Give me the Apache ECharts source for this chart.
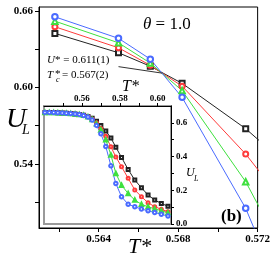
<!DOCTYPE html>
<html><head><meta charset="utf-8">
<script src="https://cdn.jsdelivr.net/npm/echarts@6/dist/echarts.min.js"></script>
<style>html,body{margin:0;padding:0;background:#fff}#c{width:273px;height:262px}</style>
</head><body><div id="c"></div>
<script>
// ---- main plot data ----
const mainT = [0.5618, 0.5650, 0.5666, 0.5682, 0.5714, 0.5740];
const mainBlack = [0.6423, 0.6271, 0.6165, 0.6031, 0.5675, 0.5320];
const mainRed   = [0.6475, 0.6310, 0.6172, 0.6009, 0.5476, 0.4960];
const mainGreen = [0.6519, 0.6349, 0.6190, 0.5974, 0.5259, 0.4500];
const mainBlue  = [0.6553, 0.6384, 0.6221, 0.5921, 0.5050, 0.4080];
// ---- inset data ----
const insetT = [0.5405,0.5428,0.5451,0.5473,0.5496,0.5518,0.5541,0.5564,0.5586,0.5609,0.5632,0.5654,0.5677,0.5700,0.5726,0.5753,0.5779,0.5809,0.5844,0.5879,0.5914,0.5949,0.5984,0.6019,0.6054];
const insetBlack = [0.662,0.662,0.661,0.660,0.659,0.657,0.655,0.653,0.650,0.645,0.638,0.627,0.609,0.585,0.552,0.510,0.456,0.395,0.323,0.261,0.215,0.172,0.142,0.122,0.105];
const insetRed   = [0.662,0.662,0.661,0.660,0.659,0.657,0.655,0.653,0.650,0.645,0.637,0.623,0.600,0.567,0.520,0.458,0.398,0.340,0.271,0.202,0.162,0.126,0.103,0.087,0.073];
const insetGreen = [0.662,0.662,0.661,0.660,0.659,0.657,0.655,0.653,0.650,0.645,0.636,0.620,0.594,0.558,0.500,0.410,0.300,0.230,0.181,0.142,0.117,0.102,0.090,0.079,0.066];
const insetBlue  = [0.662,0.662,0.661,0.660,0.659,0.657,0.655,0.653,0.650,0.644,0.635,0.617,0.585,0.535,0.460,0.345,0.240,0.162,0.117,0.102,0.089,0.078,0.068,0.058,0.047];
// ---- ticks / labels ----
const mainXTicks = [0.562,0.564,0.566,0.568,0.570,0.572];
const mainXLabels = [0.564,0.568,0.572];
const mainYTicks = [0.51,0.54,0.57,0.60,0.63,0.66];
const mainYLabels = [0.54,0.60,0.66];
const insetXTicks = [0.55,0.56,0.57,0.58,0.59,0.60];
const insetXLabels = [0.56,0.58,0.60];
const insetYTicks = [0,0.1,0.2,0.3,0.4,0.5,0.6];
const insetYLabels = [0,0.2,0.4,0.6];
// ---- annotation ----
const crossing = [0.5672, 0.6111];
const arrowTip = [0.5650, 0.6162];

const SERIF = '"Liberation Serif","DejaVu Serif",serif';
const colors = {black:'#222222', red:'#ff3b3b', green:'#3ee03e', blue:'#4a6bff'};

function mk(T, U, color, symbol, size, idx, extra) {
  return Object.assign({
    type:'line', xAxisIndex:idx, yAxisIndex:idx,
    data: T.map((t,i)=>[t,U[i]]),
    symbol, symbolSize:size, showSymbol:true,
    lineStyle:{color, width:1}, itemStyle:{color, borderColor:color, borderWidth:0.9},
    emphasis:{disabled:true}, silent:true, animation:false, clip:true
  }, extra||{});
}

function axisCommon(ticks, labels, dec, fs, margin, len) {
  return {
    axisLine:{show:true, onZero:false, lineStyle:{color:'#000', width:1}},
    axisTick:{show:true, inside:false, length:len, customValues:ticks, lineStyle:{color:'#000'}},
    axisLabel:{show:true, customValues:labels, formatter:v=>Number(v).toFixed(dec),
      fontFamily:SERIF, fontSize:fs, fontWeight:'bold', color:'#000', margin:margin},
    splitLine:{show:false}
  };
}

const chart = echarts.init(document.getElementById('c'), null, {renderer:'canvas'});
const option = {
  animation:false,
  backgroundColor:'#fff',
  grid:[
    {left:39, top:7, width:220, height:221, show:true, borderColor:'#000', borderWidth:1, backgroundColor:'transparent'},
    {left:44, top:106, width:127, height:118, show:true, borderColor:'#9a9a9a', borderWidth:2, backgroundColor:'#fff'}
  ],
  xAxis:[
    Object.assign({type:'value', gridIndex:0, min:0.561, max:0.572, position:'bottom'}, axisCommon(mainXTicks, mainXLabels, 3, 11, 6, 4)),
    Object.assign({type:'value', gridIndex:1, min:0.54, max:0.607, position:'top'}, axisCommon(insetXTicks, insetXLabels, 2, 9, 3, 3))
  ],
  yAxis:[
    Object.assign({type:'value', gridIndex:0, min:0.4896, max:0.663, position:'left'}, axisCommon(mainYTicks, mainYLabels, 2, 11, 6, 4)),
    Object.assign({type:'value', gridIndex:1, min:0, max:0.7, position:'right'}, axisCommon(insetYTicks, insetYLabels, 1, 9, 5, 3))
  ],
  series:[
    mk(mainT, mainBlack, colors.black, 'emptyRect', 5, 0, {
      markLine:{silent:true, symbol:['none','arrow'], symbolSize:[0,7], animation:false,
        label:{show:false}, lineStyle:{color:'#333', width:1, type:'solid'},
        data:[[{coord:crossing},{coord:arrowTip}]]}
    }),
    mk(mainT, mainRed, colors.red, 'emptyCircle', 5, 0),
    mk(mainT, mainGreen, colors.green, 'emptyTriangle', 5.5, 0),
    mk(mainT, mainBlue, colors.blue, 'emptyCircle', 5.5, 0),
    mk(insetT, insetBlack, colors.black, 'emptyRect', 3, 1),
    mk(insetT, insetRed, colors.red, 'emptyCircle', 3, 1),
    mk(insetT, insetGreen, colors.green, 'emptyTriangle', 3.5, 1),
    mk(insetT, insetBlue, colors.blue, 'emptyCircle', 3.5, 1)
  ],
  graphic:[
    {type:'text', x:143, y:25, z:10, style:{text:'{i|θ}{n| = 1.0}', textVerticalAlign:'middle', verticalAlign:'middle',
      rich:{i:{fontFamily:SERIF, fontSize:17, fontStyle:'italic', fill:'#000'}, n:{fontFamily:SERIF, fontSize:17, fill:'#000'}}}},
    {type:'text', x:47, y:60, z:10, style:{text:'{i|U}{n|* = 0.611(1)}', textVerticalAlign:'middle', verticalAlign:'middle',
      rich:{i:{fontFamily:SERIF, fontSize:11, fontStyle:'italic', fill:'#000'}, n:{fontFamily:SERIF, fontSize:11, fill:'#000'}}}},
    {type:'text', x:47, y:70, z:10, style:{text:'T', font:'italic 11px '+SERIF, fill:'#000'}},
    {type:'text', x:55, y:69, z:10, style:{text:'*', font:'11px '+SERIF, fill:'#000'}},
    {type:'text', x:56, y:76, z:10, style:{text:'c', font:'italic 8px '+SERIF, fill:'#000'}},
    {type:'text', x:62, y:70, z:10, style:{text:'= 0.567(2)', font:'11px '+SERIF, fill:'#000'}},
    {type:'text', x:6, y:106, z:10, style:{text:'U', font:'italic 28px '+SERIF, fill:'#000'}},
    {type:'text', x:22, y:123, z:10, style:{text:'L', font:'italic 14px '+SERIF, fill:'#000'}},
    {type:'text', x:128, y:236, z:10, style:{text:'T*', font:'italic 22px '+SERIF, fill:'#000'}},
    {type:'text', x:221, y:208, z:10, style:{text:'(b)', font:'bold 17px '+SERIF, fill:'#000'}},
    {type:'text', x:122, y:79, z:10, style:{text:'T*', font:'italic 16px '+SERIF, fill:'#000'}},
    {type:'text', x:186, y:167, z:10, style:{text:'U', font:'italic 12px '+SERIF, fill:'#000'}},
    {type:'text', x:194, y:175, z:10, style:{text:'L', font:'italic 8px '+SERIF, fill:'#000'}}
  ]
};
chart.setOption(option);
</script>
</body></html>
